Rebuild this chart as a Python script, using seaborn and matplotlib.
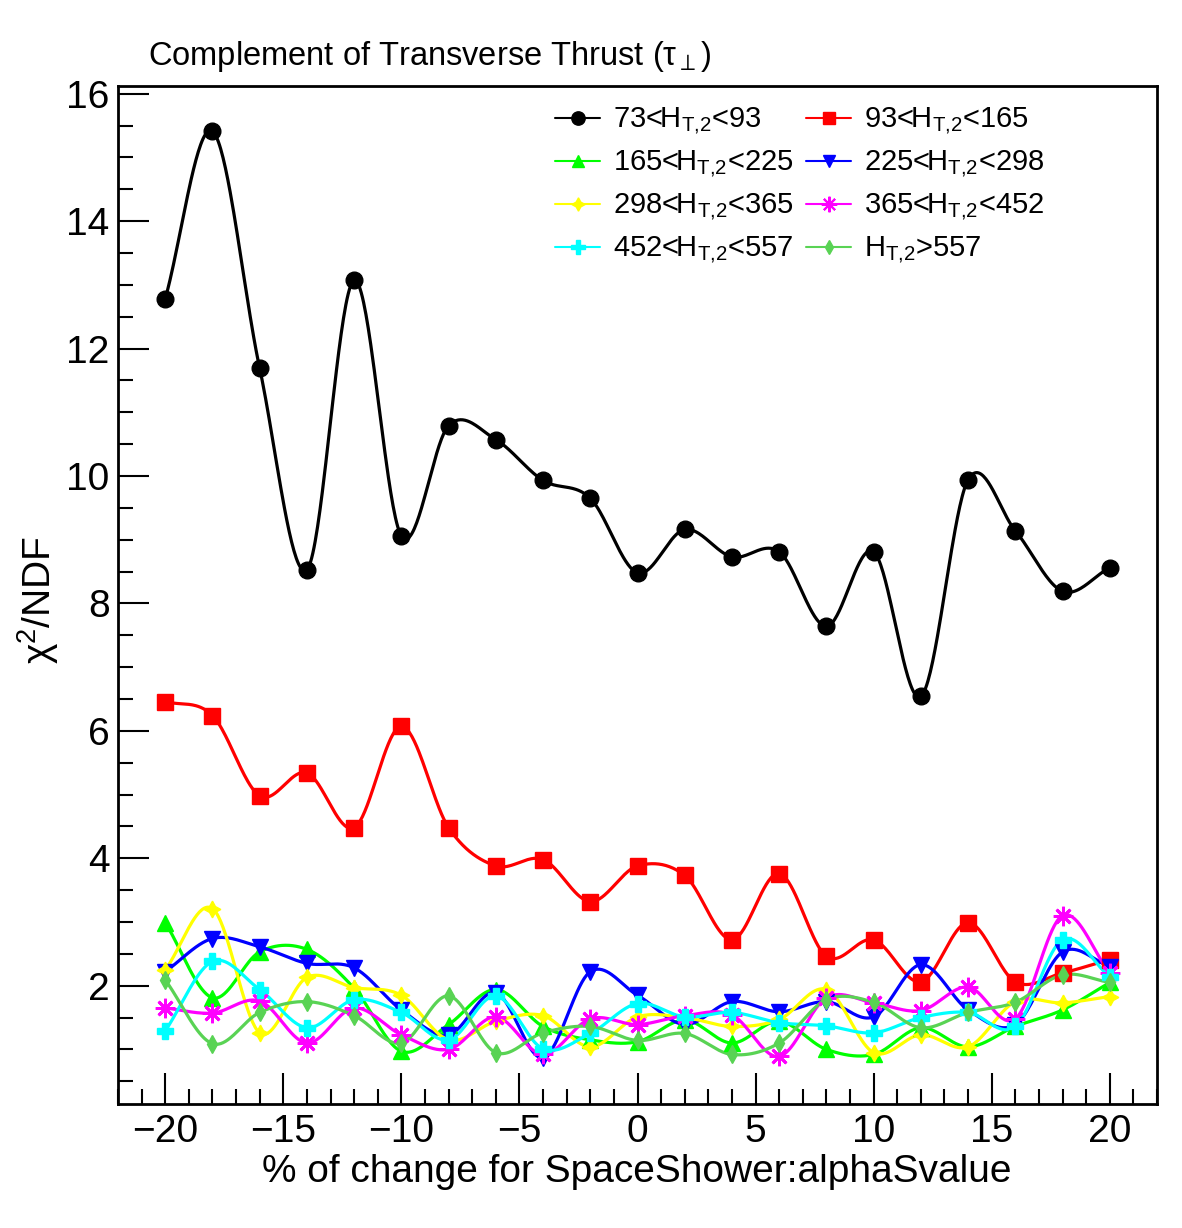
import numpy as np
import pandas as pd
import matplotlib
matplotlib.use('Agg')
import matplotlib.pyplot as plt
from matplotlib.lines import Line2D
from matplotlib.ticker import MultipleLocator
import seaborn as sns

# shift of SpaceShower:alphaSvalue in %
shift = [-20, -18, -16, -14, -12, -10, -8, -6, -4, -2, 0, 2, 4, 6, 8, 10, 12, 14, 16, 18, 20]

# chi2/NDF per HT,2 bin
ht_73_93 = [12.78, 15.41, 11.69, 8.53, 13.07, 9.06, 10.79, 10.57, 9.93, 9.65, 8.48,
            9.16, 8.73, 8.81, 7.64, 8.81, 6.54, 9.94, 9.14, 8.19, 8.56]
ht_93_165 = [6.46, 6.24, 4.98, 5.34, 4.48, 6.07, 4.48, 3.88, 3.98, 3.32, 3.88,
             3.73, 2.72, 3.76, 2.46, 2.72, 2.06, 2.99, 2.06, 2.20, 2.41]
ht_165_225 = [2.99, 1.81, 2.53, 2.57, 1.96, 0.97, 1.39, 1.94, 1.36, 1.15, 1.12,
              1.46, 1.10, 1.44, 1.00, 0.92, 1.34, 1.04, 1.36, 1.62, 2.05]
ht_225_298 = [2.22, 2.74, 2.61, 2.35, 2.28, 1.62, 1.23, 1.89, 0.87, 2.22, 1.85,
              1.39, 1.75, 1.59, 1.75, 1.51, 2.33, 1.62, 1.39, 2.53, 2.30]
ht_298_365 = [2.25, 3.21, 1.26, 2.13, 1.97, 1.85, 1.15, 1.44, 1.53, 1.04, 1.51,
              1.50, 1.36, 1.47, 1.94, 0.95, 1.23, 1.04, 1.75, 1.73, 1.83]
ht_365_452 = [1.65, 1.57, 1.76, 1.10, 1.65, 1.23, 1.00, 1.51, 0.92, 1.48, 1.39,
              1.53, 1.54, 0.89, 1.81, 1.73, 1.61, 1.98, 1.48, 3.10, 2.20]
ht_452_557 = [1.29, 2.38, 1.94, 1.34, 1.78, 1.58, 1.15, 1.84, 1.01, 1.25, 1.72,
              1.51, 1.58, 1.42, 1.37, 1.26, 1.50, 1.58, 1.36, 2.72, 2.14]
ht_557 = [2.09, 1.09, 1.58, 1.75, 1.53, 1.10, 1.84, 0.95, 1.26, 1.36, 1.14,
          1.25, 0.92, 1.10, 1.78, 1.74, 1.34, 1.58, 1.74, 2.17, 2.05]

sub = r'$_{\mathrm{T{,}2}}$'
labels = ['73<H' + sub + '<93', '93<H' + sub + '<165',
          '165<H' + sub + '<225', '225<H' + sub + '<298',
          '298<H' + sub + '<365', '365<H' + sub + '<452',
          '452<H' + sub + '<557', 'H' + sub + '>557']
series = [ht_73_93, ht_93_165, ht_165_225, ht_225_298,
          ht_298_365, ht_365_452, ht_452_557, ht_557]
colors = ['#000000', '#ff0000', '#00ff00', '#0000ff',
          '#ffff00', '#ff00ff', '#00ffff', '#59d354']
markers = ['o', 's', '^', 'v', (4, 1, 0), (8, 2, 0), 'P', 'd']
msizes = [12, 11, 11, 11, 12, 14, 12, 9]


def smooth_curve(x, y, n=40):
    # Catmull-Rom spline through the points (close to ROOT's "C" option)
    x = np.asarray(x, float)
    y = np.asarray(y, float)
    k = len(x)
    m = np.zeros(k)
    m[1:-1] = (y[2:] - y[:-2]) / (x[2:] - x[:-2])
    m[0] = (y[1] - y[0]) / (x[1] - x[0])
    m[-1] = (y[-1] - y[-2]) / (x[-1] - x[-2])
    xs_all, ys_all = [], []
    for i in range(k - 1):
        h = x[i + 1] - x[i]
        t = np.linspace(0, 1, n, endpoint=(i == k - 2))
        h00 = 2 * t**3 - 3 * t**2 + 1
        h10 = t**3 - 2 * t**2 + t
        h01 = -2 * t**3 + 3 * t**2
        h11 = t**3 - t**2
        xs_all.append(x[i] + t * h)
        ys_all.append(h00 * y[i] + h10 * h * m[i] + h01 * y[i + 1] + h11 * h * m[i + 1])
    return np.concatenate(xs_all), np.concatenate(ys_all)


sns.set_theme(style='white')
plt.rcParams['font.family'] = ['Liberation Sans', 'DejaVu Sans']
plt.rcParams['mathtext.fontset'] = 'custom'
plt.rcParams['mathtext.rm'] = 'Liberation Sans'
plt.rcParams['mathtext.it'] = 'Liberation Sans:italic'
for key in ['text.color', 'axes.labelcolor', 'xtick.color', 'ytick.color']:
    plt.rcParams[key] = 'black'

fig = plt.figure(figsize=(11.82, 12.28), dpi=100)
ax = fig.add_axes([118 / 1182, 1 - 1104 / 1228, (1157 - 118) / 1182, (1104 - 86) / 1228])

for ys_, lab, c, m, ms in zip(series, labels, colors, markers, msizes):
    xs, yc = smooth_curve(shift, ys_)
    sns.lineplot(x=xs, y=yc, color=c, lw=2.3, ax=ax, sort=False, estimator=None)
    ax.plot(shift, ys_, linestyle='none', marker=m, color=c, markersize=ms,
            markeredgewidth=2 if m == (8, 2, 0) else 1, zorder=3)

ax.set_xlim(-22, 22)
ax.set_ylim(0.143, 16.12)
ax.xaxis.set_minor_locator(MultipleLocator(1))
ax.yaxis.set_minor_locator(MultipleLocator(0.5))
ax.set_yticks([2, 4, 6, 8, 10, 12, 14, 16])
ax.set_xticks([-20, -15, -10, -5, 0, 5, 10, 15, 20])
ax.set_xticklabels(['\u221220', '\u221215', '\u221210', '\u22125', '0', '5', '10', '15', '20'])
ax.tick_params(which='major', direction='in', length=22, width=1.5, labelsize=28,
               top=False, right=False, left=True, bottom=True)
ax.tick_params(which='minor', direction='in', length=11, width=1.5,
               top=False, right=False, left=True, bottom=True)
ax.tick_params(axis='x', which='major', pad=7)
ax.tick_params(axis='y', which='major', pad=6)
for sp in ax.spines.values():
    sp.set_linewidth(2)
    sp.set_color('black')
ax.set_xlabel('')
ax.set_ylabel('')

fig.text(148 / 1182, 1 - 56 / 1228, r'Complement of Transverse Thrust (τ$_{\perp}$)',
         fontsize=23.5, ha='left', va='center')
fig.text(637 / 1182, 1 - 1172 / 1228, '% of change for SpaceShower:alphaSvalue',
         fontsize=28, ha='center', va='center')
fig.text(38 / 1182, 1 - 600 / 1228, r'χ$^{2}$/NDF', fontsize=28,
         rotation=90, ha='center', va='center')

handles = [Line2D([], [], color=c, marker=m, markersize=ms * 0.8, lw=1.5,
                  markeredgewidth=1.5 if m == (8, 2, 0) else 1)
           for c, m, ms in zip(colors, markers, msizes)]
order = [0, 2, 4, 6, 1, 3, 5, 7]
ax.legend([handles[i] for i in order], [labels[i] for i in order], ncol=2,
          frameon=False, fontsize=21, loc='upper left',
          bbox_to_anchor=(555 / 1182, 1 - 106 / 1228),
          bbox_transform=fig.transFigure, handlelength=1.55, handletextpad=0.45,
          columnspacing=0.4, labelspacing=0.4, borderaxespad=0, borderpad=0)

fig.savefig('out.png', dpi=100, facecolor='white')
